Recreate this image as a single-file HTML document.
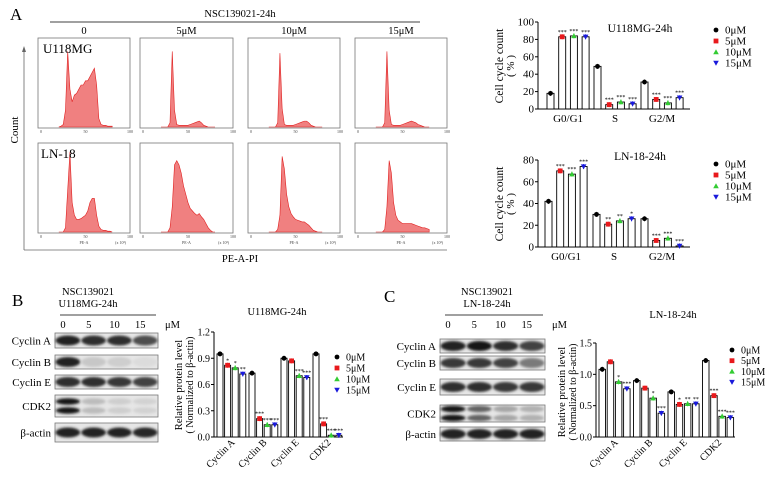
<!DOCTYPE html>
<html><head><meta charset="utf-8"><style>
body{margin:0;background:#fff}
svg{display:block;font-family:"Liberation Serif",serif}
</style></head><body>
<svg id="fig" width="769" height="480" viewBox="0 0 769 480">
<defs>
<filter id="blur" x="-20%" y="-50%" width="140%" height="200%"><feGaussianBlur stdDeviation="1.4"/></filter>
</defs>
<g id="root"></g>
</svg>
<script>
// ---------- DATA ----------
const histBins = [20,22.5,25,27.5,30,32.5,35,37.5,40,42.5,45,47.5,50,52.5,55,57.5,60,62.5,65,67.5,70,72.5,75,77.5,80];
const histU0  = [0,0.01,0.03,0.2,0.9,0.45,0.3,0.38,0.4,0.45,0.5,0.5,0.55,0.55,0.6,0.65,0.7,0.5,0.1,0.03,0.02,0.02,0.01,0.01,0.01];
const histU5  = [0,0,0,0,0.05,0.9,0.2,0.03,0.02,0.02,0.02,0.02,0.02,0.03,0.04,0.05,0.06,0.07,0.05,0.02,0.01,0,0,0,0];
const histU10 = [0,0,0,0,0.05,0.88,0.22,0.03,0.02,0.02,0.02,0.02,0.03,0.04,0.05,0.06,0.07,0.07,0.05,0.02,0.01,0,0,0,0];
const histU15 = [0,0,0,0,0.05,0.9,0.2,0.03,0.02,0.02,0.02,0.02,0.03,0.04,0.05,0.06,0.07,0.06,0.05,0.03,0.02,0.01,0,0,0];
const histL0  = [0,0,0,0.05,0.5,0.95,0.35,0.2,0.15,0.15,0.16,0.18,0.2,0.25,0.35,0.4,0.4,0.2,0.07,0.03,0.02,0.02,0.01,0.01,0];
const histL5  = [0,0,0,0,0.05,0.3,0.8,0.85,0.8,0.7,0.55,0.45,0.35,0.28,0.25,0.22,0.2,0.22,0.18,0.15,0.1,0.05,0.02,0,0];
const histL10 = [0,0,0,0,0.03,0.2,0.9,0.75,0.45,0.3,0.22,0.18,0.15,0.14,0.13,0.12,0.12,0.1,0.08,0.05,0.02,0.01,0,0,0];
const histL15 = [0,0,0,0,0.03,0.3,0.85,0.7,0.35,0.2,0.14,0.12,0.1,0.1,0.1,0.1,0.1,0.09,0.08,0.07,0.06,0.05,0.05,0.04,0.03];

const doseLabels = ["0μM","5μM","10μM","15μM"];
const phaseCats = ["G0/G1","S","G2/M"];
const u118Phase0 = [18,49,31];
const u118Phase5 = [83,5,11];
const u118Phase10 = [84,8,7];
const u118Phase15 = [83,6,13];
const u118PhaseStars5 = ["***","***","***"];
const u118PhaseStars10 = ["***","***","***"];
const u118PhaseStars15 = ["***","***","***"];
const ln18Phase0 = [42,30,26];
const ln18Phase5 = [70,21,6];
const ln18Phase10 = [67,24,8];
const ln18Phase15 = [74,26,1];
const ln18PhaseStars5 = ["***","**","***"];
const ln18PhaseStars10 = ["***","**","***"];
const ln18PhaseStars15 = ["***","*","***"];
const phaseTicks1 = [0,20,40,60,80,100];
const phaseTicks2 = [0,20,40,60,80];

const proteinCats = ["Cyclin A","Cyclin B","Cyclin E","CDK2"];
const bProt0 = [0.95,0.73,0.90,0.95];
const bProt5 = [0.82,0.21,0.87,0.15];
const bProt10 = [0.79,0.14,0.70,0.02];
const bProt15 = [0.72,0.14,0.68,0.02];
const bStars5 = ["*","***","","***"];
const bStars10 = ["*","***","***","***"];
const bStars15 = ["**","***","***","***"];
const bTicks = [0,0.3,0.6,0.9,1.2];
const cProt0 = [1.08,0.90,0.72,1.22];
const cProt5 = [1.20,0.78,0.52,0.66];
const cProt10 = [0.88,0.62,0.53,0.33];
const cProt15 = [0.77,0.38,0.53,0.31];
const cStars5 = ["","","*","***"];
const cStars10 = ["*","*","**","***"];
const cStars15 = ["***","***","**","***"];
const cTicks = [0,0.5,1.0,1.5];

const blotRows = ["Cyclin A","Cyclin B","Cyclin E","CDK2","β-actin"];
const bBand = [[0.9,0.85,0.85,0.7],[0.9,0.15,0.12,0.06],[0.85,0.85,0.8,0.75],[0.95,0.2,0.12,0.1],[0.9,0.9,0.9,0.88]];
const cBand = [[0.9,0.95,0.85,0.75],[0.8,0.8,0.75,0.5],[0.85,0.85,0.8,0.8],[0.95,0.6,0.3,0.25],[0.9,0.9,0.9,0.9]];

// ---------- helpers ----------
const NS="http://www.w3.org/2000/svg";
const root=document.getElementById('root');
function mk(tag,attrs,parent){const e=document.createElementNS(NS,tag);for(const k in attrs)e.setAttribute(k,attrs[k]);(parent||root).appendChild(e);return e;}
function txt(s,x,y,size,anchor,parent,extra){const e=mk('text',Object.assign({x:x,y:y,'font-size':size,'text-anchor':anchor||'start',fill:'#000'},extra||{}),parent);e.textContent=s;return e;}
const colors=["#000","#e8191c","#33cc33","#1a1adb"];

function marker(s,x,y,parent){
  let e;
  if(s===0) e=mk('circle',{cx:x,cy:y,r:2.4,fill:colors[0]},parent);
  else if(s===1) e=mk('rect',{x:x-2.4,y:y-2.4,width:4.8,height:4.8,fill:colors[1]},parent);
  else if(s===2) e=mk('polygon',{points:`${x},${y-2.8} ${x-2.8},${y+2.2} ${x+2.8},${y+2.2}`,fill:colors[2]},parent);
  else e=mk('polygon',{points:`${x},${y+2.8} ${x-2.8},${y-2.2} ${x+2.8},${y-2.2}`,fill:colors[3]},parent);
  
  
  return e;
}

// ---------- Panel A histograms ----------
txt("A",10,20,17,'start');
txt("NSC139021-24h",240,17,10.5,'middle');
mk('line',{x1:50,y1:22,x2:420,y2:22,stroke:'#000','stroke-width':0.8});
const colX=[38,140,248,355], colW=[92,93,92,92];
const colHead=["0","5μM","10μM","15μM"];
colHead.forEach((h,i)=>txt(h,colX[i]+colW[i]/2,34,10.5,'middle'));
const rowY=[38,143], rowH=90;
const hists=[[histU0,histU5,histU10,histU15],[histL0,histL5,histL10,histL15]];
for(let r=0;r<2;r++)for(let c=0;c<4;c++){
  const g=mk('g',{});
  
  
  const x0=colX[c],y0=rowY[r],w=colW[c];
  mk('rect',{x:x0,y:y0,width:w,height:rowH,fill:'#fff',stroke:'#777','stroke-width':0.8},g);
  const sx=v=>x0+3+v/100*(w-3), sy=v=>y0+rowH-1-v*(rowH-6);
  const d=hists[r][c];
  let pts=`${sx(histBins[0])},${sy(0)} `;
  d.forEach((v,i)=>{pts+=`${sx(histBins[i])},${sy(v)} `;});
  pts+=`${sx(histBins[histBins.length-1])},${sy(0)}`;
  const p=mk('polygon',{points:pts,fill:'#f08080',stroke:'#e02020','stroke-width':0.6},g);
  
  
  ["0","50","100"].forEach((t,i)=>txt(t,sx(i*50),y0+rowH+5,4,'middle',g,{fill:'#444'}));
  if(r===1){txt("PE-A",x0+w/2,y0+rowH+11,4,'middle',g,{fill:'#444'});txt("(x 10³)",x0+w-4,y0+rowH+11,4,'end',g,{fill:'#444'});}
}
txt("U118MG",43,53,13,'start');
txt("LN-18",41,158,13,'start');
mk('line',{x1:24,y1:50,x2:24,y2:250,stroke:'#666','stroke-width':0.8});
mk('line',{x1:24,y1:250,x2:447,y2:250,stroke:'#666','stroke-width':0.8});
mk('polygon',{points:"24,46 22,52 26,52",fill:'#666'});
txt("Count",0,0,11,'middle',null,{transform:'translate(18,130) rotate(-90)'});
txt("PE-A-PI",240,262,10.5,'middle');

// ---------- Bar chart function ----------
function barChart(o){
  const g=mk('g',{});
  
  
  const y=v=>o.y0-(v-0)/o.ymax*(o.y0-o.y1);
  const series=[o.s0,o.s1,o.s2,o.s3], stars=[null,o.st1,o.st2,o.st3];
  mk('line',{x1:o.ax,y1:o.y1,x2:o.ax,y2:o.y0,stroke:'#000','stroke-width':1},g);
  mk('line',{x1:o.ax,y1:o.y0,x2:o.axEnd,y2:o.y0,stroke:'#000','stroke-width':1},g);
  o.ticks.forEach(t=>{
    mk('line',{x1:o.ax-3,y1:y(t),x2:o.ax,y2:y(t),stroke:'#000','stroke-width':1},g);
    txt(o.fmt(t),o.ax-4,y(t)+3.5,o.fs,'end',g);
  });
  o.cats.forEach((c,gi)=>{
    series.forEach((s,si)=>{
      const bx=o.bx0+gi*o.gStep+si*o.bStep, v=s[gi];
      const b=mk('rect',{x:bx,y:y(v),width:o.bw,height:o.y0-y(v),fill:'#fff',stroke:'#000','stroke-width':0.9},g);
      
      
      const cx=bx+o.bw/2;
      mk('line',{x1:cx,y1:y(v)-2.5,x2:cx,y2:y(v)+2.5,stroke:colors[si],'stroke-width':0.8},g);
      marker(si,cx,y(v),g);
      if(stars[si]&&stars[si][gi]) txt(stars[si][gi],cx,y(v)-3,6,'middle',g);
    });
    const gc=o.bx0+gi*o.gStep+1.5*o.bStep+o.bw/2;
    if(o.rot) txt(c,0,0,o.fs,'end',g,{transform:`translate(${gc+4},${o.y0+6}) rotate(-45)`});
    else txt(c,gc,o.y0+13,o.fs,'middle',g);
  });
  txt(o.title,o.tx,o.ty,o.fs+0.5,'middle',g);
  doseLabels.forEach((l,i)=>{marker(i,o.lx,o.ly+i*o.lstep,g);txt(l,o.lx+9,o.ly+i*o.lstep+3.5,o.fs,'start',g);});
  txt(o.yt1,0,0,o.fs+0.5,'middle',g,{transform:`translate(${o.ytx},${o.yty}) rotate(-90)`});
  txt(o.yt2,0,0,o.fs,'middle',g,{transform:`translate(${o.ytx+11},${o.yty}) rotate(-90)`});
}
const int=t=>String(t), one=t=>t.toFixed(1);
barChart({name:'u118mg-cell-cycle-chart',cats:phaseCats,s0:u118Phase0,s1:u118Phase5,s2:u118Phase10,s3:u118Phase15,st1:u118PhaseStars5,st2:u118PhaseStars10,st3:u118PhaseStars15,
  ax:538,axEnd:690,y0:109,y1:22,ymax:100,ticks:phaseTicks1,fmt:int,fs:11,bx0:547,gStep:47,bStep:11.7,bw:7,rot:false,
  title:"U118MG-24h",tx:640,ty:32,lx:716,ly:30,lstep:11,yt1:"Cell cycle count",yt2:"( % )",ytx:503,yty:66});
barChart({name:'ln18-cell-cycle-chart',cats:phaseCats,s0:ln18Phase0,s1:ln18Phase5,s2:ln18Phase10,s3:ln18Phase15,st1:ln18PhaseStars5,st2:ln18PhaseStars10,st3:ln18PhaseStars15,
  ax:538,axEnd:690,y0:247,y1:160,ymax:80,ticks:phaseTicks2,fmt:int,fs:11,bx0:545,gStep:48,bStep:11.7,bw:7,rot:false,
  title:"LN-18-24h",tx:640,ty:160,lx:716,ly:164,lstep:11,yt1:"Cell cycle count",yt2:"( % )",ytx:503,yty:204});
barChart({name:'u118mg-protein-chart',cats:proteinCats,s0:bProt0,s1:bProt5,s2:bProt10,s3:bProt15,st1:bStars5,st2:bStars10,st3:bStars15,
  ax:214,axEnd:343,y0:437,y1:332,ymax:1.2,ticks:bTicks,fmt:one,fs:10,bx0:217,gStep:32,bStep:7.6,bw:6,rot:true,
  title:"U118MG-24h",tx:277,ty:315,lx:337,ly:357,lstep:11,yt1:"Relative protein level",yt2:"( Normalized to β-actin)",ytx:182,yty:385});
barChart({name:'ln18-protein-chart',cats:proteinCats,s0:cProt0,s1:cProt5,s2:cProt10,s3:cProt15,st1:cStars5,st2:cStars10,st3:cStars15,
  ax:596,axEnd:735,y0:437,y1:343,ymax:1.5,ticks:cTicks,fmt:one,fs:10,bx0:599,gStep:34.5,bStep:8.2,bw:6.5,rot:true,
  title:"LN-18-24h",tx:673,ty:318,lx:732,ly:350,lstep:10.7,yt1:"Relative protein level",yt2:"( Normalized to β-actin)",ytx:565,yty:392});

// ---------- Western blots ----------
function blot(o){
  txt(o.letter,o.lx,o.ly,17,'start');
  txt("NSC139021",o.hx,295,10.5,'middle');
  txt(o.cell,o.hx,307,10.5,'middle');
  mk('line',{x1:o.x0+5,y1:315,x2:o.x1-2,y2:315,stroke:'#000','stroke-width':0.8});
  ["0","5","10","15"].forEach((l,i)=>txt(l,o.x0+8+i*(o.x1-o.x0)/4,328,10.5,'middle'));
  txt("μM",o.x1+7,328,10.5,'start');
  blotRows.forEach((rname,ri)=>{
    const [ya,yb]=o.rows[ri];
    const g=mk('g',{});
    
    
    mk('rect',{x:o.x0,y:ya,width:o.x1-o.x0,height:yb-ya,fill:'#e6e6e6',stroke:'#777','stroke-width':0.8},g);
    const lw=(o.x1-o.x0)/4;
    o.bands[ri].forEach((v,li)=>{
      const shade=Math.round(232-v*220);
      const cy=(ya+yb)/2;
      if(ri===3){
        mk('ellipse',{cx:o.x0+lw*(li+0.5),cy:cy-4.5,rx:lw*0.47,ry:3.2,fill:`rgb(${shade},${shade},${shade})`,filter:'url(#blur)'},g);
        mk('ellipse',{cx:o.x0+lw*(li+0.5),cy:cy+4.5,rx:lw*0.47,ry:3.2,fill:`rgb(${shade},${shade},${shade})`,filter:'url(#blur)'},g);
      } else mk('ellipse',{cx:o.x0+lw*(li+0.5),cy:cy,rx:lw*0.48,ry:Math.min(5,(yb-ya)/2.8),fill:`rgb(${shade},${shade},${shade})`,filter:'url(#blur)'},g);
    });
    txt(rname,o.x0-4,(ya+yb)/2+4,11,'end');
  });
}
blot({letter:"B",lx:12,ly:306,hx:88,cell:"U118MG-24h",x0:55,x1:158,bands:bBand,
  rows:[[333,348],[355,369],[375,389],[395,417],[423,442]]});
blot({letter:"C",lx:384,ly:302,hx:487,cell:"LN-18-24h",x0:440,x1:545,bands:cBand,
  rows:[[339,353],[356,370],[379,395],[405,422],[427,441]]});
</script>
</body></html>
